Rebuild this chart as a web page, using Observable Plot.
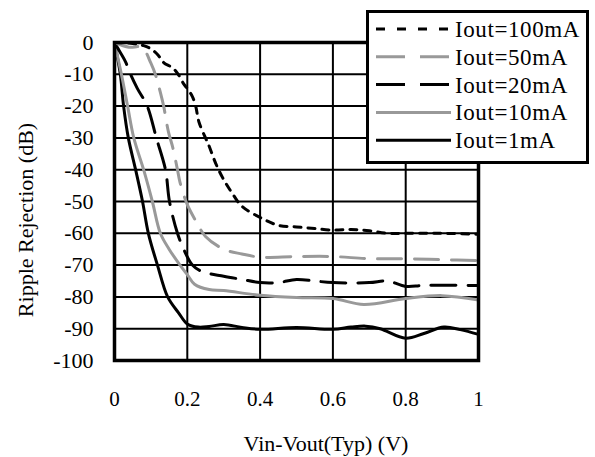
<!DOCTYPE html>
<html><head><meta charset="utf-8">
<script src="https://cdn.jsdelivr.net/npm/d3@7"></script>
<script src="https://cdn.jsdelivr.net/npm/@observablehq/plot@0.6"></script>
<style>
body{margin:0;background:#fff;}
#wrap{position:relative;width:595px;height:457px;font-family:'Liberation Serif','Times New Roman',serif;}
#chart svg text{font-family:'Liberation Serif','Times New Roman',serif;}
#legend{position:absolute;left:366px;top:10px;width:223px;height:154px;box-sizing:border-box;border:3px solid #000;background:#fff;}
#legend svg{display:block;}
</style></head><body>
<div id="wrap"><div id="chart"></div><div id="legend"></div></div>
<script>
const xTicks = [0, 0.2, 0.4, 0.6, 0.8, 1];
const yTicks = [0, -10, -20, -30, -40, -50, -60, -70, -80, -90, -100];
const xLabel = "Vin-Vout(Typ) (V)";
const yLabel = "Ripple Rejection (dB)";

const seriesNames = ["Iout=100mA", "Iout=50mA", "Iout=20mA", "Iout=10mA", "Iout=1mA"];
const seriesColors = ["#000000", "#999999", "#000000", "#999999", "#000000"];
const seriesDash = ["7,7", "24,13", "25,12", null, null];

const x100 = [0, 0.05, 0.08, 0.1, 0.12, 0.135, 0.16, 0.175, 0.19, 0.2, 0.214, 0.223, 0.232, 0.25, 0.258, 0.278, 0.297, 0.324, 0.35, 0.4, 0.45, 0.5, 0.55, 0.6, 0.65, 0.7, 0.75, 0.8, 0.9, 1];
const y100 = [0, -0.3, -1, -2, -4, -6.3, -8, -10, -13, -14.5, -17, -20, -25, -30, -32, -38, -42.5, -47.5, -51.5, -55, -57.5, -58, -58.5, -59, -58.8, -59.2, -60, -60, -60, -60.3];

const x50 = [0, 0.04, 0.075, 0.1, 0.115, 0.126, 0.135, 0.148, 0.16, 0.173, 0.18, 0.2, 0.228, 0.25, 0.3, 0.35, 0.4, 0.5, 0.6, 0.7, 0.8, 0.9, 1];
const y50 = [0, -1.5, -1.5, -6.5, -11, -15.7, -20, -28, -33, -40, -44, -51, -57, -61, -65, -66.5, -67.5, -67.3, -67.3, -68, -68, -68.3, -68.6];

const x20 = [0, 0.01, 0.03, 0.044, 0.063, 0.09, 0.115, 0.14, 0.151, 0.173, 0.19, 0.214, 0.24, 0.3, 0.35, 0.4, 0.45, 0.5, 0.55, 0.6, 0.7, 0.75, 0.8, 0.85, 1];
const y20 = [0, -2, -6, -10, -14.5, -20, -30, -40, -50, -60, -65, -70, -72, -73.5, -74.5, -75.5, -75.5, -74.5, -75, -75.5, -75.5, -75, -76.7, -76.4, -76.4];

const x10 = [0, 0.019, 0.036, 0.053, 0.08, 0.104, 0.126, 0.15, 0.18, 0.2, 0.22, 0.26, 0.3, 0.4, 0.5, 0.6, 0.685, 0.8, 0.9, 1];
const y10 = [0, -10, -20, -30, -40, -50, -60, -65, -70, -73, -76, -77.7, -78, -79.5, -80.2, -80.5, -82.4, -80.5, -79.6, -81];

const x1 = [0, 0.016, 0.025, 0.038, 0.058, 0.077, 0.093, 0.118, 0.146, 0.176, 0.2, 0.23, 0.26, 0.3, 0.35, 0.4, 0.5, 0.6, 0.65, 0.69, 0.73, 0.8, 0.85, 0.905, 0.95, 1];
const y1 = [0, -10, -20, -30, -40, -50, -60, -70, -80, -85, -88.5, -89.5, -89.3, -88.7, -89.6, -90.2, -89.6, -90.2, -89.5, -89.2, -90, -93, -91.5, -89.5, -90.3, -91.8];

const seriesX = [x100, x50, x20, x10, x1];
const seriesY = [y100, y50, y20, y10, y1];

const font = "'Liberation Serif','Times New Roman',serif";

const lineMarks = [4, 3, 2, 1, 0].map(i => {
  const data = seriesX[i].map((x, k) => ({x, y: seriesY[i][k]}));
  const opts = {x: "x", y: "y", stroke: seriesColors[i], strokeWidth: 3, curve: "catmull-rom"};
  if (seriesDash[i]) opts.strokeDasharray = seriesDash[i];
  return Plot.line(data, opts);
});

const chart = Plot.plot({
  width: 595, height: 457,
  marginLeft: 114, marginRight: 117, marginTop: 42, marginBottom: 97,
  x: {domain: [0, 1]},
  y: {domain: [-100, 0]},
  style: {fontFamily: font, fontSize: "21px", background: "#fff", color: "#000"},
  marks: [
    Plot.gridX(xTicks.slice(1, -1), {stroke: "#000", strokeOpacity: 1, strokeWidth: 2}),
    Plot.gridY(yTicks.slice(1, -1), {stroke: "#000", strokeOpacity: 1, strokeWidth: 2}),
    ...lineMarks,
    Plot.frame({stroke: "#000", strokeWidth: 3.5}),
    Plot.axisX(xTicks, {tickSize: 0, tickPadding: 31, tickFormat: d => String(d), fontSize: 21, fontFamily: font, label: null}),
    Plot.axisY(yTicks, {tickSize: 0, tickPadding: 21, tickFormat: d => String(d), fontSize: 22, fontFamily: font, label: null})
  ]
});
document.getElementById("chart").appendChild(chart);

// axis titles
const svg = d3.select(chart);
svg.append("text").attr("x", 326).attr("y", 451).attr("text-anchor", "middle")
  .attr("font-family", font).attr("font-size", 22).attr("fill", "#000").text(xLabel);
svg.append("text").attr("transform", "translate(33,220) rotate(-90)").attr("text-anchor", "middle")
  .attr("font-family", font).attr("font-size", 22).attr("fill", "#000").text(yLabel);

// legend
const lw = 217, lh = 148;
const lsvg = d3.select("#legend").append("svg").attr("width", lw).attr("height", lh);
seriesNames.forEach((name, i) => {
  const cy = 16 + i * 27.8;
  const ln = lsvg.append("line").attr("x1", 7).attr("x2", 82).attr("y1", cy).attr("y2", cy)
    .attr("stroke", seriesColors[i]).attr("stroke-width", 3);
  if (seriesDash[i]) ln.attr("stroke-dasharray", i === 0 ? "9,12" : "29,15");
  lsvg.append("text").attr("x", 86).attr("y", cy).attr("dy", "0.35em")
    .attr("font-family", font).attr("font-size", 23).attr("letter-spacing", "0.6px").text(name);
});
</script>
</body></html>
